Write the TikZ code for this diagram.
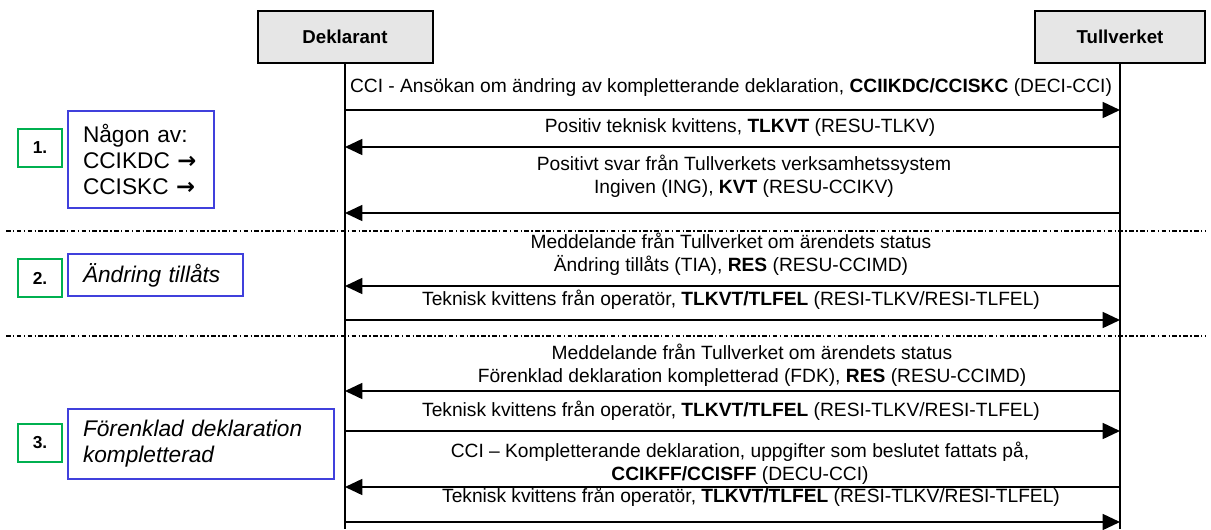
\documentclass[tikz,border=0pt]{standalone}
\usepackage{fontspec}
\setmainfont{Liberation Sans}
\newfontfamily\arrowfont{DejaVu Sans}
\usetikzlibrary{arrows.meta}
\definecolor{TVGreen}{RGB}{0, 176, 80}
\definecolor{TVBlue}{RGB}{64, 64, 220}
\definecolor{TVHead}{RGB}{230, 230, 230}
\newcommand{\msgcode}[1]{\textbf{#1}}
\newcommand{\rarr}{{\arrowfont\bfseries →}}

\begin{document}
\begin{tikzpicture}[
  x=0.75pt, y=-0.75pt,
  every node/.style={font=\fontsize{14.4}{17}\selectfont},
  actor/.style={draw=black, line width=1.5pt, fill=TVHead, inner sep=0pt,
                font=\fontsize{14}{17}\selectfont\bfseries, minimum height=39pt},
  life/.style={line width=1.2pt},
  msg/.style={align=center, inner sep=0pt},
  arr/.style={-{Triangle[length=13pt, width=12pt]}, line width=1.2pt},
  sep/.style={line width=1pt, dash pattern=on 3.5pt off 1.8pt on 1pt off 1.8pt},
  num/.style={draw=TVGreen, line width=1.5pt, inner sep=0pt,
              font=\fontsize{13}{15}\selectfont\bfseries,
              minimum width=33pt, minimum height=28.5pt},
  note/.style={draw=TVBlue, line width=1pt, align=left, inner xsep=11.25pt, inner ysep=0pt,
               font=\fontsize{17}{19.5}\selectfont}
]
  \useasboundingbox (0,0) rectangle (1211,529);

  %% Actors and lifelines
  \node[actor, minimum width=131.25pt] (dekl) at (345,37)  {Deklarant};
  \node[actor, minimum width=127.5pt]  (tull) at (1120,37) {Tullverket};
  \coordinate (dekl-end) at (345,529);
  \coordinate (tull-end) at (1120,529);
  \draw[life] (dekl) -- (dekl-end);
  \draw[life] (tull) -- (tull-end);

  %% Phase separators
  \coordinate (sepA-w) at (6,231);
  \coordinate (sepA-e) at (1205,231);
  \coordinate (sepB-w) at (6,336);
  \coordinate (sepB-e) at (1205,336);
  \draw[sep] (sepA-w) -- (sepA-e);
  \draw[sep] (sepB-w) -- (sepB-e);

  %% Phase markers
  \node[num] (n1) at (40,148) {1.};
  \node[num] (n2) at (40,278) {2.};
  \node[num] (n3) at (40,443) {3.};
  \node[note, text width=87pt, minimum height=72.75pt] (note1) at (141,159.5)
    {Någon av:\\CCIKDC~\rarr\\CCISKC~\rarr};
  \node[note, text width=108.75pt, minimum height=31.5pt] (note2) at (155.5,275)
    {\itshape Ändring tillåts};
  \node[note, text width=177pt, minimum height=52.5pt] (note3) at (201,444)
    {\itshape Förenklad deklaration\\kompletterad};

  %% Message labels
  \node[msg] (t1) at (731,88)
    {CCI - Ansökan om ändring av kompletterande deklaration, \msgcode{CCIIKDC/CCISKC} (DECI-CCI)};
  \node[msg] (t2) at (740,128)
    {Positiv teknisk kvittens, \msgcode{TLKVT} (RESU-TLKV)};
  \node[msg] (t3) at (744,176)
    {Positivt svar från Tullverkets verksamhetssystem\\Ingiven (ING), \msgcode{KVT} (RESU-CCIKV)};
  \node[msg] (t4) at (731,254)
    {Meddelande från Tullverket om ärendets status\\Ändring tillåts (TIA), \msgcode{RES} (RESU-CCIMD)};
  \node[msg] (t5) at (731,300)
    {Teknisk kvittens från operatör, \msgcode{TLKVT/TLFEL} (RESI-TLKV/RESI-TLFEL)};
  \node[msg] (t6) at (752,365)
    {Meddelande från Tullverket om ärendets status\\Förenklad deklaration kompletterad (FDK), \msgcode{RES} (RESU-CCIMD)};
  \node[msg] (t7) at (731,411)
    {Teknisk kvittens från operatör, \msgcode{TLKVT/TLFEL} (RESI-TLKV/RESI-TLFEL)};
  \node[msg] (t8) at (740,463)
    {CCI – Kompletterande deklaration, uppgifter som beslutet fattats på,\\\msgcode{CCIKFF/CCISFF} (DECU-CCI)};
  \node[msg] (t9) at (751,497)
    {Teknisk kvittens från operatör, \msgcode{TLKVT/TLFEL} (RESI-TLKV/RESI-TLFEL)};

  %% Message arrows
  \coordinate (y1) at (0,110);
  \coordinate (y2) at (0,147);
  \coordinate (y3) at (0,213);
  \coordinate (y4) at (0,286);
  \coordinate (y5) at (0,320);
  \coordinate (y6) at (0,391);
  \coordinate (y7) at (0,431);
  \coordinate (y8) at (0,487);
  \coordinate (y9) at (0,522);
  \draw[arr] (dekl |- y1) -- (tull |- y1);
  \draw[arr] (tull |- y2) -- (dekl |- y2);
  \draw[arr] (tull |- y3) -- (dekl |- y3);
  \draw[arr] (tull |- y4) -- (dekl |- y4);
  \draw[arr] (dekl |- y5) -- (tull |- y5);
  \draw[arr] (tull |- y6) -- (dekl |- y6);
  \draw[arr] (dekl |- y7) -- (tull |- y7);
  \draw[arr] (tull |- y8) -- (dekl |- y8);
  \draw[arr] (dekl |- y9) -- (tull |- y9);
\end{tikzpicture}
\end{document}
